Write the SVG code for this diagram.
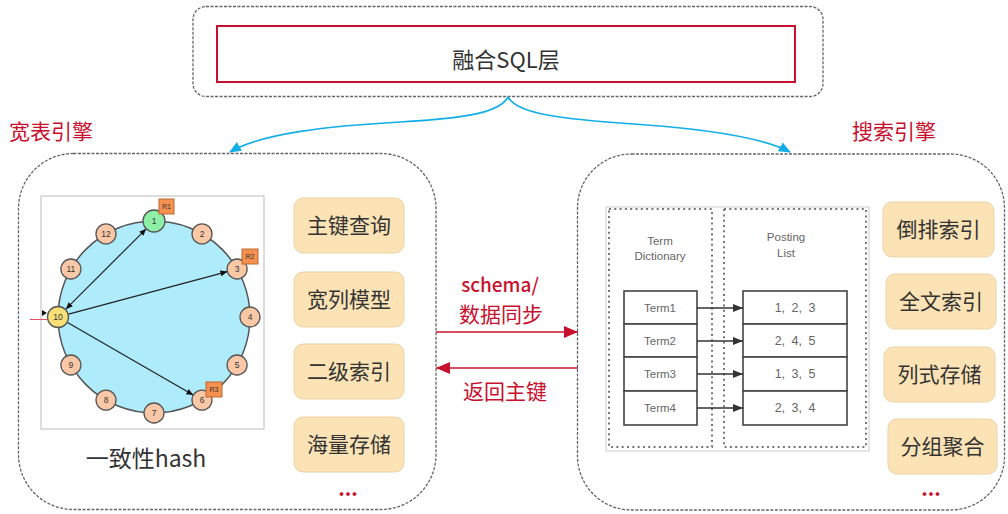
<svg xmlns="http://www.w3.org/2000/svg" width="1008" height="514" viewBox="0 0 1008 514">
<defs>
<style>
.t{font-family:"Noto Sans CJK SC","Noto Sans",sans-serif;fill:#333;}
.red{fill:#C8102E;}
.dash{fill:none;stroke:#666;stroke-width:1.3;stroke-dasharray:3 1.5;}
.yb{fill:#FCE3B5;stroke:#EAD3A6;stroke-width:1;}
.yt{font-family:"Noto Sans CJK SC",sans-serif;font-size:21px;fill:#333;text-anchor:middle;}
.node{fill:#FAC8A6;stroke:#555;stroke-width:1.3;}
.nt{font-family:"Liberation Sans",sans-serif;font-size:8.5px;fill:#333;text-anchor:middle;}
.rb{fill:#F5904E;stroke:#B86A36;stroke-width:1;}
.rt{font-family:"Liberation Sans",sans-serif;font-size:7px;fill:#333;text-anchor:middle;}
.dot{fill:none;stroke:#777;stroke-width:2;stroke-dasharray:2 3.3;}
.cell{fill:#fff;stroke:#444;stroke-width:1.6;}
.ct{font-family:"Liberation Sans",sans-serif;font-size:11.5px;fill:#666;text-anchor:middle;}
.pt{font-family:"Liberation Sans",sans-serif;font-size:12.5px;fill:#666;text-anchor:middle;word-spacing:3px;}
</style>
<marker id="blueHead" viewBox="0 0 12 10" refX="11" refY="5" markerWidth="12" markerHeight="10" markerUnits="userSpaceOnUse" orient="auto">
<path d="M0,0 L12,5 L0,10 z" fill="#12AEEA"/>
</marker>
<marker id="redHead" viewBox="0 0 14 12" refX="14" refY="6" markerWidth="14" markerHeight="12" markerUnits="userSpaceOnUse" orient="auto">
<path d="M0,0 L14,6 L0,12 z" fill="#C8102E"/>
</marker>
<marker id="blkHead" viewBox="0 0 10 8" refX="10" refY="4" markerWidth="10" markerHeight="8" markerUnits="userSpaceOnUse" orient="auto">
<path d="M0,0 L10,4 L0,8 z" fill="#333"/>
</marker>
<marker id="smHead" viewBox="0 0 7 6" refX="7" refY="3" markerWidth="7" markerHeight="6" markerUnits="userSpaceOnUse" orient="auto-start-reverse">
<path d="M0,0 L7,3 L0,6 z" fill="#111"/>
</marker>
</defs>

<rect width="1008" height="514" fill="#fff"/>

<!-- Top: SQL layer -->
<g id="sql-layer">
<rect class="dash" x="193" y="6.5" width="630" height="90" rx="13"/>
<rect x="217" y="26" width="578" height="56" fill="#fff" stroke="#C8102E" stroke-width="2"/>
<text class="t" x="506" y="68" font-size="22" text-anchor="middle">融合SQL层</text>
</g>

<!-- Labels -->
<text class="t red" x="9" y="139" font-size="21">宽表引擎</text>
<text class="t red" x="852" y="139" font-size="21">搜索引擎</text>

<!-- Left: wide table engine -->
<g id="wide-table-engine">
<rect class="dash" x="18.5" y="153.5" width="417.5" height="356" rx="55"/>
<g id="hash-ring">
<rect x="41" y="196" width="223" height="233" fill="#fff" stroke="#BBB" stroke-width="1"/>
<circle cx="154" cy="317" r="96" fill="#AEEBFB" stroke="#555" stroke-width="1.5"/>
<line x1="30" y1="319.5" x2="47" y2="319.5" stroke="#E05060" stroke-width="1"/>
<path d="M42,310 L47,313 L42,316 z" fill="#111"/>
<line x1="65.8" y1="309.2" x2="146.2" y2="228.8" stroke="#222" stroke-width="1.2" marker-start="url(#smHead)" marker-end="url(#smHead)"/>
<line x1="68.6" y1="314.2" x2="227.4" y2="271.6" stroke="#222" stroke-width="1.2" marker-end="url(#smHead)"/>
<line x1="67.5" y1="322.5" x2="193.3" y2="395.1" stroke="#222" stroke-width="1.2" marker-end="url(#smHead)"/>
<circle cx="154" cy="221" r="11" fill="#8EEFA6" stroke="#555" stroke-width="1.3"/><text class="nt" x="154" y="224">1</text>
<circle class="node" cx="202" cy="233.9" r="10"/><text class="nt" x="202" y="236.9">2</text>
<circle class="node" cx="237.1" cy="269" r="10"/><text class="nt" x="237.1" y="272">3</text>
<circle class="node" cx="250" cy="317" r="10"/><text class="nt" x="250" y="320">4</text>
<circle class="node" cx="237.1" cy="365" r="10"/><text class="nt" x="237.1" y="368">5</text>
<circle class="node" cx="202" cy="400.1" r="10"/><text class="nt" x="202" y="403.1">6</text>
<circle class="node" cx="154" cy="413" r="10"/><text class="nt" x="154" y="416">7</text>
<circle class="node" cx="106" cy="400.1" r="10"/><text class="nt" x="106" y="403.1">8</text>
<circle class="node" cx="70.9" cy="365" r="10"/><text class="nt" x="70.9" y="368">9</text>
<circle cx="58" cy="317" r="10.5" fill="#F8DF78" stroke="#555" stroke-width="1.3"/><text class="nt" x="58" y="320">10</text>
<circle class="node" cx="70.9" cy="269" r="10"/><text class="nt" x="70.9" y="272">11</text>
<circle class="node" cx="106" cy="233.9" r="10"/><text class="nt" x="106" y="236.9">12</text>
<rect class="rb" x="159" y="199" width="15" height="15"/><text class="rt" x="166.5" y="209">R1</text>
<rect class="rb" x="242" y="249" width="16" height="15"/><text class="rt" x="250" y="259">R2</text>
<rect class="rb" x="206" y="382" width="16" height="15"/><text class="rt" x="214" y="392">R3</text>
</g>
<text class="t" x="146" y="467" font-size="23" text-anchor="middle">一致性hash</text>
<g id="f-pk"><rect class="yb" x="294" y="198" width="110" height="55" rx="9"/><text class="yt" x="349" y="233">主键查询</text></g>
<g id="f-wide"><rect class="yb" x="294" y="272" width="110" height="55" rx="9"/><text class="yt" x="349" y="307">宽列模型</text></g>
<g id="f-sec"><rect class="yb" x="294" y="344" width="110" height="55" rx="9"/><text class="yt" x="349" y="379">二级索引</text></g>
<g id="f-mass"><rect class="yb" x="294" y="417" width="110" height="55" rx="9"/><text class="yt" x="349" y="452">海量存储</text></g>
<text class="t red" x="348" y="496" font-size="20" font-weight="bold" text-anchor="middle">...</text>
</g>

<!-- Right: search engine -->
<g id="search-engine">
<rect class="dash" x="577.5" y="154" width="427" height="356" rx="54"/>
<g id="inverted-index">
<rect x="606" y="207" width="263" height="244" fill="#fff" stroke="#CCC" stroke-width="1"/>
<rect class="dot" x="609" y="209" width="103" height="238"/>
<rect class="dot" x="724" y="209" width="142" height="238"/>
<text class="ct" x="660" y="245">Term</text>
<text class="ct" x="660" y="260">Dictionary</text>
<text class="ct" x="786" y="241">Posting</text>
<text class="ct" x="786" y="257">List</text>
<rect class="cell" x="624" y="291" width="73" height="33"/>
<rect class="cell" x="624" y="324" width="73" height="33"/>
<rect class="cell" x="624" y="357" width="73" height="34"/>
<rect class="cell" x="624" y="391" width="73" height="34"/>
<rect class="cell" x="743" y="291" width="104" height="33"/>
<rect class="cell" x="743" y="324" width="104" height="33"/>
<rect class="cell" x="743" y="357" width="104" height="34"/>
<rect class="cell" x="743" y="391" width="104" height="34"/>
<text class="ct" x="660" y="312">Term1</text>
<text class="ct" x="660" y="345">Term2</text>
<text class="ct" x="660" y="378">Term3</text>
<text class="ct" x="660" y="412">Term4</text>
<text class="pt" x="795" y="312">1, 2, 3</text>
<text class="pt" x="795" y="345">2, 4, 5</text>
<text class="pt" x="795" y="378">1, 3, 5</text>
<text class="pt" x="795" y="412">2, 3, 4</text>
<g stroke="#333" stroke-width="1.6">
<line x1="697" y1="308" x2="743" y2="308" marker-end="url(#blkHead)"/>
<line x1="697" y1="341" x2="743" y2="341" marker-end="url(#blkHead)"/>
<line x1="697" y1="374" x2="743" y2="374" marker-end="url(#blkHead)"/>
<line x1="697" y1="408" x2="743" y2="408" marker-end="url(#blkHead)"/>
</g>
</g>
<g id="f-inv"><rect class="yb" x="883" y="202" width="111" height="55" rx="9"/><text class="yt" x="938.5" y="237">倒排索引</text></g>
<g id="f-full"><rect class="yb" x="886" y="274" width="110" height="55" rx="9"/><text class="yt" x="941" y="309">全文索引</text></g>
<g id="f-col"><rect class="yb" x="884" y="347" width="111" height="55" rx="9"/><text class="yt" x="939.5" y="382">列式存储</text></g>
<g id="f-agg"><rect class="yb" x="888" y="419" width="109" height="55" rx="9"/><text class="yt" x="942.5" y="454">分组聚合</text></g>
<text class="t red" x="931" y="496" font-size="20" font-weight="bold" text-anchor="middle">...</text>
</g>

<!-- Connectors -->
<g id="connectors">
<path d="M508,97 C500,112 470,118 400,122 C330,126 262,133 230,152" fill="none" stroke="#12AEEA" stroke-width="1.6" marker-end="url(#blueHead)"/>
<path d="M508,97 C516,112 550,118 620,123 C700,128 762,137 790,152" fill="none" stroke="#12AEEA" stroke-width="1.6" marker-end="url(#blueHead)"/>
<line x1="436" y1="332" x2="578" y2="332" stroke="#C8102E" stroke-width="1.5" marker-end="url(#redHead)"/>
<line x1="578" y1="368" x2="436" y2="368" stroke="#C8102E" stroke-width="1.5" marker-end="url(#redHead)"/>
<text class="t red" x="500" y="292" font-size="19" font-weight="500" text-anchor="middle">schema/</text>
<text class="t red" x="501" y="322" font-size="21" text-anchor="middle">数据同步</text>
<text class="t red" x="505" y="399" font-size="21" text-anchor="middle">返回主键</text>
</g>
</svg>
